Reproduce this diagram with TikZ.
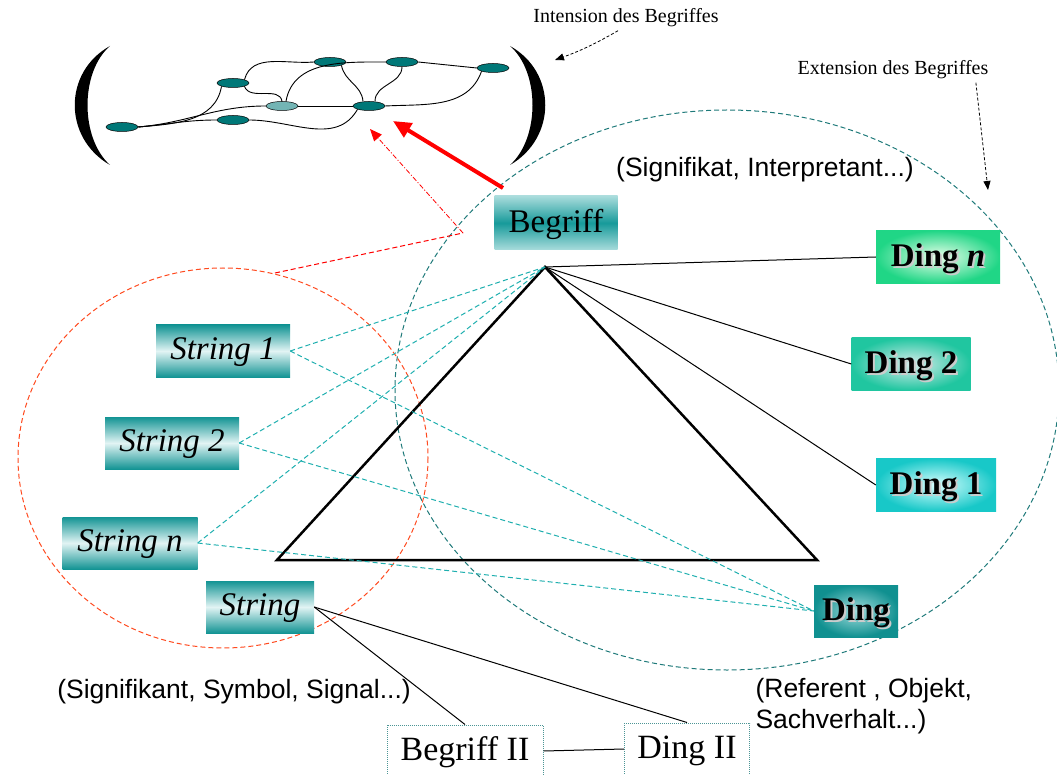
\documentclass[tikz,border=0pt]{standalone}
\usepackage{fontspec}
\setmainfont{Liberation Serif}
\newfontfamily\arialfont{Liberation Sans}
\usetikzlibrary{shapes.geometric,arrows.meta}
\definecolor{netteal}{HTML}{007878}
\definecolor{extteal}{HTML}{1F7A7A}
\definecolor{lnteal}{HTML}{1FAFAF}
\definecolor{strred}{HTML}{FF4A1F}
\definecolor{boxdark}{HTML}{139494}
\definecolor{boxlight}{HTML}{E2F4F4}
\definecolor{begdark}{HTML}{179A9A}
\definecolor{beglight}{HTML}{A9DCDC}
\newcommand{\shtext}[1]{\makebox[0pt][l]{\hspace{2pt}\raisebox{-2pt}{\color{white!80!black}#1}}#1}
\tikzset{
  netnode/.style={ellipse, draw, line width=0.5pt, fill=netteal, minimum width=32pt, minimum height=9pt, inner sep=0pt},
  strbox/.style={shading=axis, top color=boxdark, bottom color=boxdark, middle color=boxlight, minimum height=52pt, inner sep=0pt, text depth=4pt, font=\fontsize{33}{36}\selectfont\itshape},
  dingbox/.style={shading=radial, minimum height=53pt, inner sep=0pt, text depth=4pt, font=\fontsize{33}{36}\selectfont\bfseries},
  iibox/.style={draw=extteal!80, densely dotted, line width=1pt, minimum height=52pt, inner sep=0pt, text depth=4pt, font=\fontsize{34}{36}\selectfont},
  tline/.style={lnteal, line width=1pt, dash pattern=on 5pt off 3pt},
  sans/.style={font=\fontsize{26.5}{31}\selectfont\arialfont},
  small/.style={font=\fontsize{20}{22}\selectfont}
}
\begin{document}
\begin{tikzpicture}[x=1pt, y=-1pt]
\useasboundingbox (0,0) rectangle (1057,775);
% the Begriff net, in brackets
\fill (110,46) .. controls (63,72) and (63,138) .. (110,165) .. controls (80,138) and (80,72) .. (110,46);
\fill (510,46) .. controls (557,72) and (557,138) .. (510,165) .. controls (540,138) and (540,72) .. (510,46);
\node[netnode] (nt1) at (122,127){};
\node[netnode] (nt2) at (233,83){};
\node[netnode] (nt3) at (330,62){};
\node[netnode] (nt4) at (402,62){};
\node[netnode] (nt5) at (493,68){};
\node[netnode, fill=netteal!55] (nt6) at (282,106){};
\node[netnode] (nt7) at (369,106){};
\node[netnode] (nt8) at (233,120){};
\draw[line width=0.9pt](nt2.north east) to[out=75,in=185] (nt3.west);
\draw[line width=0.9pt](nt2.south east) to[out=-70,in=100] (nt6.north);
\draw[line width=0.9pt](nt2.south west) to[out=-100,in=5] (nt1.east);
\draw[line width=0.9pt](nt3.south east) to[out=-80,in=95] ([xshift=-6pt]nt7.north);
\draw[line width=0.9pt](nt4.south) to[out=-90,in=90] ([xshift=6pt]nt7.north);
\draw[line width=0.9pt](nt4.east) -- (nt5.west);
\draw[line width=0.9pt](nt5.south west) to[out=-110,in=3] (nt7.east);
\draw[line width=0.9pt]([xshift=4pt]nt6.north) to[out=80,in=180] (nt4.west);
\draw[line width=0.9pt](nt6.east) -- (nt7.west);
\draw[line width=0.9pt](nt1.east) to[out=5,in=180] (nt6.west);
\draw[line width=0.9pt](nt1.east) to[out=5,in=180] (nt8.west);
\draw[line width=0.9pt](nt8.east) to[out=0,in=-120] (nt7.south west);
% labels at the top
\node[small] (intens) at (626,18){Intension des Begriffes};
\coordinate (intip) at (555,60);
\draw[densely dashed, line width=0.8pt, -{Triangle[length=9pt,width=7pt]}]([xshift=-8pt]intens.south) to[bend left=5] (intip);
\node[small] (extens) at (893,70){Extension des Begriffes};
\coordinate (extip) at (988,190);
\draw[densely dashed, line width=0.8pt, -{Triangle[length=9pt,width=7pt]}]([xshift=-16pt]extens.south east) -- (extip);
% the two sets
\draw[extteal, line width=1pt, dash pattern=on 5pt off 3pt] (727,390) ellipse[x radius=332, y radius=280];
\draw[strred, line width=1pt, dash pattern=on 5pt off 3pt] (223,458) ellipse[x radius=205, y radius=190];
\node[sans] (signifikat) at (765,170){(Signifikat, Interpretant...)};
% red arrows up to the net
\coordinate (rcirc) at (275,273);
\coordinate (rknee) at (463,233);
\coordinate (rtip) at (370,129);
\draw[red, line width=1pt, dash pattern=on 5pt off 3pt](rcirc) -- (rknee);
\draw[red, line width=0.8pt, dash pattern=on 5pt off 2pt on 1pt off 2pt, -{Triangle[length=12pt,width=10pt]}](rknee) -- (rtip);
\coordinate (rbase) at (503,188);
\coordinate (rtip2) at (393,121);
\draw[red, line width=4pt, -{Triangle[length=18pt,width=16pt]}](rbase) -- (rtip2);
% triangle
\coordinate (apex) at (545,267);
\coordinate (tleft) at (277,560);
\coordinate (tright) at (817,560);
\draw[line width=2.5pt, line join=miter](apex) -- (tright) -- (tleft) -- cycle;
% Begriff and the Dinge
\node[shading=axis, top color=beglight, bottom color=beglight, middle color=begdark, minimum width=123pt, minimum height=54pt, inner sep=0pt, text depth=4pt, font=\fontsize{33}{36}\selectfont] (begriff) at (556,223){Begriff};
\node[dingbox, minimum width=124pt, inner color=green!8!white, outer color={rgb,255:red,32;green,214;blue,134}] (dingn) at (938,257){\shtext{Ding \textit{n}}};
\node[dingbox, minimum width=119pt, inner color=white!85!teal, outer color={rgb,255:red,32;green,198;blue,160}] (ding2) at (911,364){\shtext{Ding 2}};
\node[dingbox, minimum width=120pt, inner color=white!85!cyan, outer color={rgb,255:red,24;green,200;blue,200}] (ding1) at (936,485){\shtext{Ding 1}};
\node[dingbox, minimum width=84pt, minimum height=52pt, inner color={rgb,255:red,160;green,220;blue,220}, outer color={rgb,255:red,16;green,144;blue,144}] (ding) at (856,611){\shtext{Ding}};
\draw[line width=1pt](apex) -- (dingn.west);
\draw[line width=1pt](apex) -- (ding2.west);
\draw[line width=1pt](apex) -- (ding1.west);
% Strings
\node[strbox, minimum width=134pt] (str1) at (223,351){String 1};
\node[strbox, minimum width=134pt] (str2) at (172,443){String 2};
\node[strbox, minimum width=135pt] (strn) at (130,543){String n};
\node[strbox, minimum width=108pt] (str) at (260,607){String};
\draw[tline](str1.east) -- (apex);
\draw[tline](str2.east) -- (apex);
\draw[tline](strn.east) -- (apex);
\draw[tline](str1.east) -- (ding.west);
\draw[tline](str2.east) -- (ding.west);
\draw[tline](strn.east) -- (ding.west);
\node[sans] (signifikant) at (234,692){(Signifikant, Symbol, Signal...)};
\node[sans, align=left, anchor=north west] (referent) at (752,675){(Referent , Objekt,\\Sachverhalt...)};
% Begriff II and Ding II
\node[iibox, minimum width=156pt] (begriff2) at (465,751){Begriff II};
\node[iibox, minimum width=125pt] (ding2b) at (687,749){Ding II};
\draw[line width=1pt](str.east) -- (begriff2.north);
\draw[line width=1pt](str.east) -- (ding2b.north);
\draw[line width=1pt](begriff2.east) -- (ding2b.west);
\end{tikzpicture}
\end{document}
